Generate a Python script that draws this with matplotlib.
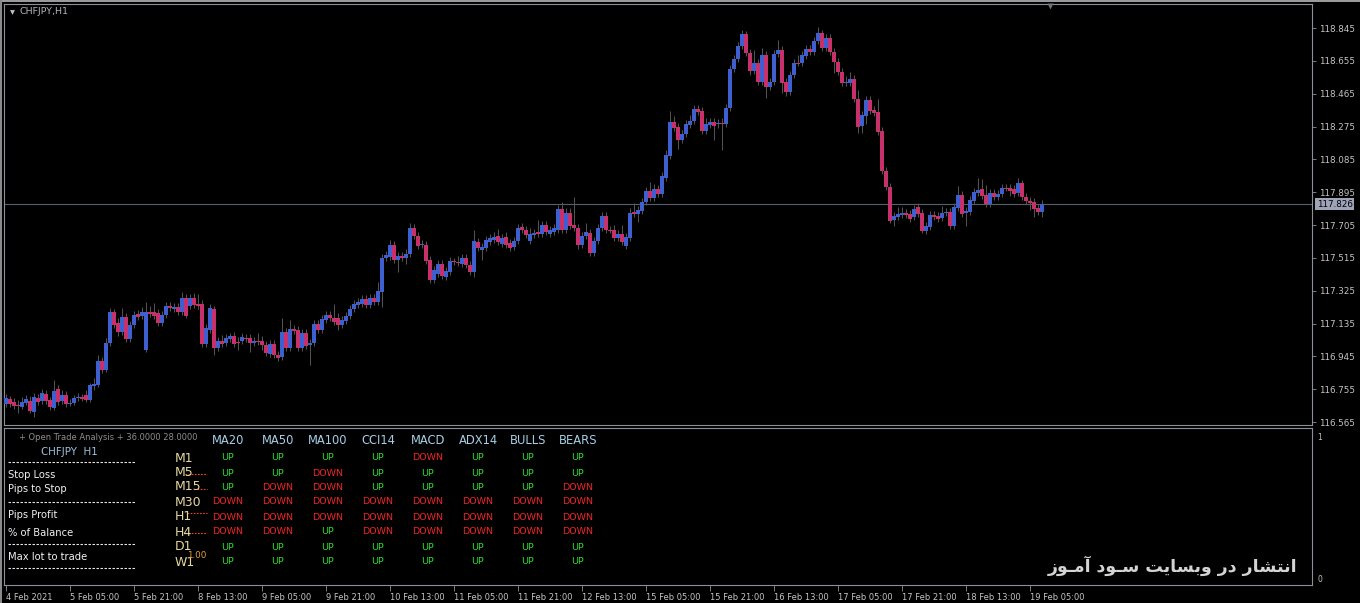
import matplotlib
matplotlib.use('Agg')
import matplotlib.pyplot as plt
import numpy as np
from matplotlib.font_manager import findfont, FontProperties
from matplotlib.ft2font import FT2Font
from matplotlib.patches import Rectangle

# ---------------- data ----------------
symbol_title = 'CHFJPY,H1'
current_price = 117.826

opens = [116.669,116.698,116.680,116.663,116.651,116.675,116.686,116.623,116.704,116.686,
116.727,116.692,116.646,116.756,116.686,116.721,116.669,116.675,116.704,116.709,
116.721,116.692,116.773,116.779,116.918,116.866,117.022,117.201,117.138,117.086,
117.172,117.045,117.126,117.190,117.178,116.981,117.201,117.201,117.196,117.138,
117.184,117.236,117.219,117.230,117.201,117.283,117.236,117.283,117.248,117.248,
117.016,117.097,117.219,116.993,117.033,117.022,117.045,117.062,117.027,117.033,
117.051,117.051,117.022,117.033,117.033,117.010,116.958,117.016,116.953,116.941,
117.086,116.993,117.103,117.097,116.993,117.080,117.010,117.022,117.132,117.097,
117.155,117.184,117.167,117.167,117.126,117.149,117.178,117.219,117.242,117.248,
117.277,117.242,117.283,117.259,117.317,117.514,117.520,117.589,117.502,117.526,
117.514,117.537,117.688,117.641,117.589,117.589,117.502,117.387,117.421,117.479,
117.404,117.433,117.497,117.491,117.479,117.514,117.473,117.433,117.607,117.560,
117.572,117.607,117.618,117.641,117.595,117.636,117.601,117.578,117.612,117.693,
117.676,117.612,117.647,117.664,117.653,117.705,117.653,117.664,117.676,117.798,
117.676,117.774,117.705,117.688,117.589,117.641,117.659,117.543,117.612,117.688,
117.757,117.676,117.676,117.630,117.653,117.583,117.630,117.780,117.769,117.786,
117.838,117.902,117.861,117.913,117.884,117.977,118.104,118.301,118.272,118.197,
118.232,118.284,118.307,118.376,118.365,118.249,118.284,118.301,118.289,118.295,
118.289,118.382,118.608,118.666,118.741,118.810,118.700,118.596,118.642,118.532,
118.689,118.504,118.532,118.694,118.718,118.532,118.475,118.573,118.642,118.642,
118.683,118.723,118.706,118.770,118.816,118.729,118.787,118.706,118.648,118.590,
118.527,118.527,118.550,118.434,118.278,118.336,118.428,118.370,118.359,118.249,
118.017,117.925,117.734,117.751,117.763,117.774,117.769,117.751,117.809,117.774,
117.670,117.693,117.763,117.757,117.746,117.774,117.780,117.699,117.803,117.878,
117.774,117.780,117.844,117.890,117.913,117.878,117.826,117.890,117.867,117.884,
117.919,117.919,117.913,117.890,117.948,117.867,117.844,117.838,117.803,117.780]

highs = [116.727,116.715,116.704,116.692,116.709,116.721,116.715,116.733,116.727,116.756,
116.750,116.709,116.808,116.779,116.750,116.744,116.698,116.721,116.733,116.727,
116.750,116.791,116.820,116.953,116.941,117.051,117.225,117.219,117.167,117.225,
117.196,117.149,117.207,117.213,117.230,117.259,117.236,117.254,117.219,117.207,
117.259,117.259,117.254,117.254,117.317,117.306,117.306,117.312,117.306,117.271,
117.132,117.248,117.236,117.057,117.068,117.074,117.080,117.086,117.057,117.080,
117.074,117.074,117.057,117.080,117.062,117.033,117.039,117.039,116.976,117.167,
117.109,117.155,117.126,117.120,117.103,117.103,117.045,117.155,117.155,117.184,
117.207,117.207,117.248,117.196,117.178,117.201,117.242,117.271,117.283,117.300,
117.300,117.306,117.306,117.375,117.537,117.554,117.618,117.612,117.549,117.549,
117.566,117.717,117.711,117.664,117.618,117.612,117.526,117.468,117.502,117.502,
117.462,117.520,117.514,117.526,117.537,117.537,117.497,117.676,117.630,117.601,
117.641,117.653,117.664,117.682,117.653,117.664,117.624,117.636,117.711,117.717,
117.699,117.688,117.682,117.734,117.728,117.728,117.699,117.711,117.821,117.838,
117.803,117.803,117.867,117.711,117.664,117.717,117.682,117.636,117.711,117.780,
117.780,117.699,117.705,117.676,117.705,117.659,117.803,117.832,117.815,117.861,
117.925,117.954,117.942,117.936,118.012,118.139,118.365,118.336,118.295,118.255,
118.313,118.342,118.399,118.399,118.388,118.324,118.324,118.324,118.318,118.324,
118.405,118.631,118.689,118.764,118.833,118.828,118.723,118.718,118.666,118.729,
118.712,118.556,118.718,118.776,118.741,118.556,118.596,118.666,118.689,118.712,
118.747,118.747,118.793,118.851,118.833,118.810,118.810,118.729,118.671,118.613,
118.567,118.590,118.573,118.486,118.365,118.451,118.451,118.394,118.434,118.272,
118.041,117.948,117.780,117.809,117.809,117.798,117.792,117.821,117.832,117.798,
117.722,117.786,117.786,117.780,117.815,117.803,117.803,117.832,117.931,117.902,
117.809,117.873,117.919,117.977,117.971,117.936,117.913,117.913,117.907,117.942,
117.942,117.942,117.936,117.977,117.965,117.890,117.867,117.861,117.826,117.850]

lows = [116.651,116.651,116.640,116.617,116.640,116.663,116.617,116.594,116.663,116.669,
116.669,116.634,116.634,116.663,116.669,116.651,116.657,116.663,116.686,116.686,
116.680,116.680,116.750,116.767,116.848,116.854,117.005,117.109,117.062,117.068,
117.027,117.027,117.109,117.155,117.161,116.970,117.172,117.161,117.120,117.120,
117.167,117.207,117.201,117.184,117.184,117.167,117.219,117.225,117.219,116.999,
116.999,117.080,116.953,116.976,116.999,117.005,117.027,116.999,116.981,117.016,
117.027,116.970,117.005,117.010,116.981,116.947,116.941,116.935,116.918,116.924,
116.976,116.976,117.074,116.976,116.976,116.987,116.895,117.005,117.080,117.080,
117.138,117.149,117.126,117.097,117.109,117.132,117.161,117.201,117.225,117.230,
117.225,117.225,117.242,117.242,117.230,117.497,117.502,117.485,117.433,117.497,
117.479,117.520,117.624,117.566,117.572,117.479,117.369,117.369,117.404,117.392,
117.387,117.416,117.473,117.468,117.462,117.456,117.416,117.404,117.554,117.502,
117.554,117.589,117.601,117.589,117.578,117.572,117.554,117.560,117.595,117.659,
117.630,117.595,117.630,117.636,117.636,117.647,117.636,117.647,117.659,117.659,
117.659,117.682,117.670,117.566,117.572,117.624,117.526,117.526,117.595,117.670,
117.659,117.659,117.612,117.612,117.589,117.566,117.612,117.751,117.722,117.769,
117.821,117.844,117.844,117.867,117.867,117.959,118.087,118.249,118.145,118.179,
118.214,118.266,118.289,118.342,118.232,118.232,118.266,118.197,118.266,118.139,
118.272,118.365,118.590,118.648,118.723,118.683,118.573,118.579,118.515,118.515,
118.440,118.486,118.515,118.677,118.469,118.451,118.457,118.556,118.625,118.625,
118.666,118.689,118.689,118.752,118.712,118.712,118.689,118.584,118.573,118.509,
118.509,118.509,118.417,118.237,118.237,118.289,118.347,118.336,118.226,118.000,
117.907,117.717,117.699,117.734,117.746,117.746,117.722,117.734,117.751,117.659,
117.653,117.676,117.734,117.722,117.728,117.757,117.682,117.682,117.786,117.751,
117.699,117.763,117.826,117.873,117.855,117.809,117.809,117.850,117.850,117.867,
117.902,117.873,117.867,117.873,117.850,117.826,117.792,117.751,117.763,117.751]

closes = [116.704,116.669,116.657,116.660,116.680,116.698,116.628,116.709,116.680,116.733,
116.686,116.651,116.744,116.680,116.721,116.669,116.675,116.704,116.709,116.701,
116.692,116.779,116.785,116.918,116.866,117.022,117.201,117.126,117.086,117.172,
117.045,117.126,117.184,117.172,117.201,117.201,117.190,117.178,117.138,117.184,
117.236,117.225,117.230,117.201,117.283,117.178,117.283,117.242,117.236,117.016,
117.109,117.225,116.993,117.033,117.016,117.051,117.062,117.016,117.025,117.057,
117.045,117.022,117.033,117.027,117.010,116.964,117.016,116.953,116.935,117.086,
116.993,117.103,117.091,116.993,117.080,117.005,117.022,117.132,117.097,117.161,
117.184,117.167,117.143,117.126,117.155,117.178,117.219,117.248,117.259,117.277,
117.242,117.283,117.259,117.323,117.514,117.531,117.589,117.502,117.526,117.514,
117.537,117.688,117.641,117.583,117.595,117.497,117.387,117.444,117.479,117.410,
117.439,117.497,117.491,117.485,117.514,117.473,117.433,117.612,117.572,117.578,
117.618,117.630,117.636,117.607,117.630,117.589,117.572,117.612,117.688,117.676,
117.647,117.653,117.659,117.653,117.705,117.664,117.676,117.688,117.798,117.676,
117.774,117.699,117.688,117.589,117.641,117.664,117.543,117.612,117.688,117.757,
117.676,117.673,117.630,117.653,117.607,117.636,117.774,117.769,117.792,117.838,
117.902,117.861,117.913,117.884,117.988,118.110,118.301,118.266,118.197,118.232,
118.289,118.307,118.376,118.359,118.249,118.289,118.301,118.278,118.295,118.292,
118.382,118.608,118.666,118.741,118.810,118.700,118.596,118.642,118.532,118.689,
118.504,118.532,118.694,118.718,118.527,118.475,118.573,118.642,118.639,118.689,
118.723,118.706,118.770,118.816,118.729,118.787,118.706,118.648,118.590,118.527,
118.532,118.550,118.434,118.272,118.342,118.428,118.365,118.353,118.243,118.017,
117.925,117.728,117.757,117.769,117.774,117.763,117.740,117.798,117.769,117.670,
117.699,117.763,117.751,117.740,117.774,117.780,117.699,117.809,117.878,117.769,
117.786,117.850,117.896,117.907,117.873,117.826,117.890,117.867,117.884,117.919,
117.916,117.902,117.884,117.948,117.867,117.844,117.832,117.798,117.780,117.826]

price_ticks = [118.845, 118.655, 118.465, 118.275, 118.085, 117.895, 117.705,
               117.515, 117.325, 117.135, 116.945, 116.755, 116.565]

time_labels = ['4 Feb 2021', '5 Feb 05:00', '5 Feb 21:00', '8 Feb 13:00', '9 Feb 05:00',
               '9 Feb 21:00', '10 Feb 13:00', '11 Feb 05:00', '11 Feb 21:00', '12 Feb 13:00',
               '15 Feb 05:00', '15 Feb 21:00', '16 Feb 13:00', '17 Feb 05:00', '17 Feb 21:00',
               '18 Feb 13:00', '19 Feb 05:00']
bars_per_label = 16

indicators = ['MA20', 'MA50', 'MA100', 'CCI14', 'MACD', 'ADX14', 'BULLS', 'BEARS']
timeframes = ['M1', 'M5', 'M15', 'M30', 'H1', 'H4', 'D1', 'W1']
signals = [
    ['UP', 'UP', 'UP', 'UP', 'DOWN', 'UP', 'UP', 'UP'],
    ['UP', 'UP', 'DOWN', 'UP', 'UP', 'UP', 'UP', 'UP'],
    ['UP', 'DOWN', 'DOWN', 'UP', 'UP', 'UP', 'UP', 'DOWN'],
    ['DOWN', 'DOWN', 'DOWN', 'DOWN', 'DOWN', 'DOWN', 'DOWN', 'DOWN'],
    ['DOWN', 'DOWN', 'DOWN', 'DOWN', 'DOWN', 'DOWN', 'DOWN', 'DOWN'],
    ['DOWN', 'DOWN', 'UP', 'DOWN', 'DOWN', 'DOWN', 'DOWN', 'DOWN'],
    ['UP', 'UP', 'UP', 'UP', 'UP', 'UP', 'UP', 'UP'],
    ['UP', 'UP', 'UP', 'UP', 'UP', 'UP', 'UP', 'UP'],
]
panel_header = '+ Open Trade Analysis + 36.0000 28.0000'
panel_symbol = 'CHFJPY  H1'
panel_fields = ['Stop Loss', 'Pips to Stop', 'Pips Profit', '% of Balance', 'Max lot to trade']
lot_value = '1.00'
watermark = 'انتشار در وبسایت سـود آمـوز'

# ---------------- styling ----------------
BG = '#000000'
FRAME = '#8a909c'
BULL = '#3d5fd0'
BEAR = '#c8306c'
WICK = '#555555'
AXTXT = '#c4c4c4'
UPC = '#2ede2e'
DNC = '#f02626'

W, H = 1360, 603
fig = plt.figure(figsize=(13.6, 6.03), dpi=100, facecolor=BG)

def fx(px):
    return px / W

def fy(py):
    return 1 - py / H

# outer frame decorations
fig.patches.append(Rectangle((0, fy(2)), 1, 2 / H, transform=fig.transFigure,
                             facecolor='#9a9a9a', edgecolor='none', zorder=0))
fig.patches.append(Rectangle((0, 0), 1.5 / W, 1, transform=fig.transFigure,
                             facecolor='#8a8a8a', edgecolor='none', zorder=0))

# ---------------- main price chart ----------------
ax = fig.add_axes([fx(4), fy(425), fx(1312) - fx(4), fy(4) - fy(425)])
ax.set_facecolor(BG)
o = np.array(opens); h = np.array(highs); l = np.array(lows); c = np.array(closes)
x = np.arange(len(c))
ax.set_xlim(-0.5, 326.5)
ax.set_ylim(116.548, 118.984)

ax.vlines(x, l, h, color=WICK, lw=0.7, zorder=2)
cols = [BULL if cc >= oo else BEAR for oo, cc in zip(o, c)]
bottoms = np.minimum(o, c)
heights = np.maximum(np.abs(c - o), 0.003)
ax.bar(x, heights, bottom=bottoms, width=0.8, color=cols, edgecolor='none',
       linewidth=0, zorder=3, antialiased=False)

ax.axhline(current_price, color='#56606c', lw=0.8, zorder=1)

for sp in ax.spines.values():
    sp.set_color(FRAME)
    sp.set_linewidth(0.8)
ax.yaxis.tick_right()
ax.set_yticks(price_ticks)
ax.set_yticklabels([f'{p:.3f}' for p in price_ticks])
ax.tick_params(axis='y', colors=FRAME, labelcolor=AXTXT, labelsize=6.3,
               length=3, width=0.6, pad=2, direction='out')
ax.tick_params(axis='x', bottom=False, labelbottom=False)

ax.text(1.0035, current_price, f'{current_price:.3f}', transform=ax.get_yaxis_transform(),
        ha='left', va='center', fontsize=6.3, color='#000000', zorder=5,
        bbox=dict(boxstyle='square,pad=0.18', facecolor='#9ea3b7', edgecolor='none'),
        clip_on=False)

# ---------------- indicator sub-window ----------------
ax2 = fig.add_axes([fx(4), fy(585), fx(1312) - fx(4), fy(428) - fy(585)])
ax2.set_facecolor(BG)
ax2.set_xlim(-0.5, 326.5)
ax2.set_ylim(-0.042, 1.056)
for sp in ax2.spines.values():
    sp.set_color(FRAME)
    sp.set_linewidth(0.8)
ax2.yaxis.tick_right()
ax2.set_yticks([0, 1])
ax2.set_yticklabels(['0', '1'])
ax2.tick_params(axis='y', colors=FRAME, labelcolor=AXTXT, labelsize=5.5,
                length=0, pad=4)
tick_pos = [i * bars_per_label for i in range(len(time_labels))]
ax2.set_xticks(tick_pos)
ax2.set_xticklabels(time_labels)
ax2.tick_params(axis='x', colors=FRAME, labelcolor=AXTXT, labelsize=6.0,
                length=4, width=0.6, pad=1.5, direction='out')
for t in ax2.get_xticklabels():
    t.set_ha('left')

# ---------------- overlay for pixel-placed text ----------------
ov = fig.add_axes([0, 0, 1, 1], zorder=10)
ov.set_xlim(0, W)
ov.set_ylim(H, 0)
ov.axis('off')
ov.patch.set_alpha(0)

ov.plot([12], [11.5], marker='v', ms=3.5, color='#c0c0c0', mec='none')
ov.text(20, 12, symbol_title, color='#b4b4b4', fontsize=6.8, va='center', ha='left')
ov.plot([1050], [6], marker='v', ms=5, color='#6e7480', mec='none')

# left info block
ov.text(19, 438, panel_header, color='#8e8e8e', fontsize=6.0, va='center', ha='left')
ov.text(41, 452, panel_symbol, color='#9cc2de', fontsize=7.4, va='center', ha='left')
for yy in [462, 502, 544, 568]:
    ov.plot([8, 136], [yy, yy], color='#e6e6e6', lw=0.8, ls=(0, (2.2, 1.4)),
            solid_capstyle='butt', dash_capstyle='butt')
for lbl, yy in zip(panel_fields, [475, 489, 515, 533, 557]):
    ov.text(8, yy, lbl, color='#f0f0f0', fontsize=7.2, va='center', ha='left')

# indicator table
col_x = [228, 278, 328, 378, 428, 478, 528, 578]
row_y = [458, 473, 487, 502, 517, 532, 547, 562]
for name, xx in zip(indicators, col_x):
    ov.text(xx, 441, name, color='#a6d0e6', fontsize=8.3, va='center', ha='center')
for tf, yy in zip(timeframes, row_y):
    ov.text(175, yy, tf, color='#e6d8a0', fontsize=9, va='center', ha='left')
for row, yy in zip(signals, row_y):
    for val, xx in zip(row, col_x):
        ov.text(xx, yy, val, color=UPC if val == 'UP' else DNC,
                fontsize=6.8, va='center', ha='center')

# price-line dashes crossing the timeframe labels
for x0, x1, yy in [(185, 207, 474), (197, 207, 489), (187, 207, 513), (185, 207, 533)]:
    ov.plot([x0, x1], [yy, yy], color='#e04a22', lw=0.8, ls=(0, (1.6, 1.2)))
ov.text(187, 555, lot_value, color='#e8a030', fontsize=6.3, va='center', ha='left')

# ---------------- Persian watermark (manual shaping) ----------------
FORMS = {
    'ا': ('\uFE8D', '\uFE8E', None, None),
    'آ': ('\uFE81', '\uFE82', None, None),
    'ن': ('\uFEE5', '\uFEE6', '\uFEE7', '\uFEE8'),
    'ت': ('\uFE95', '\uFE96', '\uFE97', '\uFE98'),
    'ش': ('\uFEB5', '\uFEB6', '\uFEB7', '\uFEB8'),
    'ر': ('\uFEAD', '\uFEAE', None, None),
    'د': ('\uFEA9', '\uFEAA', None, None),
    'و': ('\uFEED', '\uFEEE', None, None),
    'ب': ('\uFE8F', '\uFE90', '\uFE91', '\uFE92'),
    'س': ('\uFEB1', '\uFEB2', '\uFEB3', '\uFEB4'),
    'ی': ('\uFBFC', '\uFBFD', '\uFBFE', '\uFBFF'),
    'م': ('\uFEE1', '\uFEE2', '\uFEE3', '\uFEE4'),
    'ز': ('\uFEAF', '\uFEB0', None, None),
}
ALT_YEH = ('\uFEEF', '\uFEF0', '\uFEF3', '\uFEF4')
DUAL = set('نتشبسیمـ')
LETTERS = set(FORMS) | {'ـ'}


def pick_font():
    for weight in ['bold', 'normal']:
        try:
            path = findfont(FontProperties(family='DejaVu Sans', weight=weight))
            cmap = FT2Font(path).get_charmap()
            needed = [ord(f) for v in FORMS.values() for f in v
                      if f and not ('\uFBFC' <= f <= '\uFBFF')]
            if all(cp in cmap for cp in needed):
                return weight, cmap
        except Exception:
            pass
    return 'normal', {}


weight, cmap = pick_font()


def shape_fa(s):
    out = []
    for i, ch in enumerate(s):
        if ch not in FORMS:
            out.append(ch)
            continue
        prev = s[i - 1] if i > 0 else ''
        nxt = s[i + 1] if i + 1 < len(s) else ''
        jp = prev in DUAL
        jn = (ch in DUAL) and (nxt in LETTERS)
        forms = FORMS[ch]
        if ch == 'ی' and cmap and not all(ord(f) in cmap for f in forms):
            forms = ALT_YEH
        iso, fin, ini, med = forms
        if jp and jn:
            g = med
        elif jp:
            g = fin
        elif jn:
            g = ini
        else:
            g = iso
        out.append(g)
    return ''.join(reversed(out))


ov.text(1297, 566, shape_fa(watermark), color='#d4d4d4', fontsize=12.5, fontweight=weight,
        family='DejaVu Sans', va='center', ha='right')

fig.savefig('out.png', dpi=100, facecolor=BG)
